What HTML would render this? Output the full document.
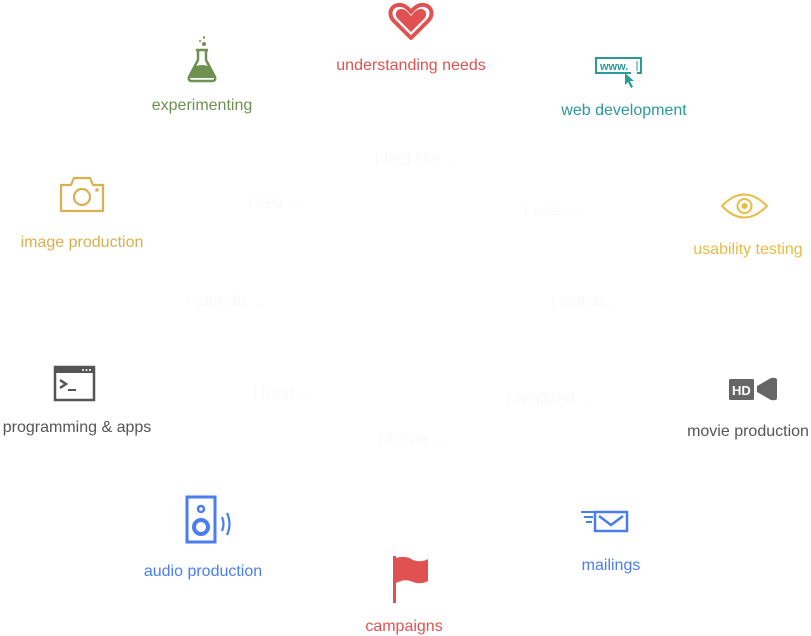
<!DOCTYPE html>
<html><head><meta charset="utf-8"><style>
body{margin:0;width:811px;height:636px;background:#fff;position:relative;overflow:hidden;font-family:"Liberation Sans",sans-serif;}
.l{position:absolute;font-size:16px;white-space:nowrap;transform:translateX(-50%);line-height:18px;}
.f{position:absolute;font-size:17px;color:#f9f9f9;white-space:nowrap;line-height:18px;}
svg{position:absolute;}
</style></head><body>
<div class="f" style="left:375px;top:150px">i feel like ...</div>
<div class="f" style="left:248px;top:194px">i see ...</div>
<div class="f" style="left:524px;top:202px">i use ...</div>
<div class="f" style="left:187px;top:292px">i can do ...</div>
<div class="f" style="left:551px;top:293px">i watch ...</div>
<div class="f" style="left:253px;top:384px">i hear ...</div>
<div class="f" style="left:507px;top:390px">i realized ...</div>
<div class="f" style="left:379px;top:430px">i know ...</div>

<svg style="left:388px;top:2px" width="46" height="40" viewBox="0 0 46 40"><path d="M23 36 L6 19 C0 13 2 4 10 3 C16 2 20 6 23 10 C26 6 30 2 36 3 C44 4 46 13 40 19 Z" fill="#fff" stroke="#e05252" stroke-width="4" stroke-linejoin="round"/><path d="M23 30 L10 17 C6 13 8 7 13 7 C17 7 20 10 23 14 C26 10 29 7 33 7 C38 7 40 13 36 17 Z" fill="#e05252"/></svg>
<div class="l" style="left:411px;top:57px;color:#e05252">understanding needs</div>

<svg style="left:186px;top:35px" width="32" height="50" viewBox="0 0 32 50"><circle cx="18" cy="2.5" r="1.2" fill="#6f9150"/><circle cx="14" cy="6" r="1" fill="#6f9150"/><circle cx="18" cy="9" r="2" fill="#6f9150"/><path d="M10 15 H22 M12 15 V25 L3 42 Q2 46 6 46 H26 Q30 46 29 42 L20 25 V15" fill="none" stroke="#6f9150" stroke-width="2.5" stroke-linejoin="round"/><path d="M8 32 Q16 28 24 32 L28 43 H4 Z" fill="#6f9150"/></svg>
<div class="l" style="left:202px;top:97px;color:#6f9150">experimenting</div>

<svg style="left:594px;top:56px" width="50" height="34" viewBox="0 0 50 34"><path d="M37 17 H2 V2 H47 V17 H43" fill="none" stroke="#2a9a9a" stroke-width="2"/><text x="6" y="14" font-family="Liberation Sans" font-weight="bold" font-size="11" fill="#2a9a9a">www.</text><line x1="43" y1="5" x2="43" y2="15" stroke="#2a9a9a" stroke-width="1"/><path d="M31 17 L31 29 L34 26 L37 32 L39 31 L36 25 L40 25 Z" fill="#2a9a9a"/></svg>
<div class="l" style="left:624px;top:102px;color:#2a9a9a">web development</div>

<svg style="left:58px;top:175px" width="48" height="39" viewBox="0 0 48 39"><path d="M3 10 H13 L16 3 H32 L35 10 H45 V36 H3 Z" fill="none" stroke="#d9b04f" stroke-width="2.2" stroke-linejoin="round"/><circle cx="24" cy="22" r="8" fill="none" stroke="#d9b04f" stroke-width="2.2"/><circle cx="39" cy="15" r="1.8" fill="#d9b04f"/></svg>
<div class="l" style="left:82px;top:234px;color:#d9b04f">image production</div>

<svg style="left:720px;top:189px" width="49" height="34" viewBox="0 0 49 34"><path d="M2 17 Q24 -6 47 17 Q24 40 2 17 Z" fill="none" stroke="#e6bc45" stroke-width="2"/><circle cx="24.5" cy="17" r="7" fill="none" stroke="#e6bc45" stroke-width="2"/><circle cx="24.5" cy="17" r="3" fill="#e6bc45"/></svg>
<div class="l" style="left:748px;top:241px;color:#e6bc45">usability testing</div>

<svg style="left:53px;top:365px" width="44" height="38" viewBox="0 0 44 38"><rect x="2" y="2" width="39" height="33" fill="none" stroke="#555" stroke-width="2.5"/><rect x="2" y="2" width="39" height="6" fill="#555"/><circle cx="30" cy="5" r="1" fill="#fff"/><circle cx="33.5" cy="5" r="1" fill="#fff"/><circle cx="37" cy="5" r="1" fill="#fff"/><path d="M7 15 L13 19 L7 23" fill="none" stroke="#555" stroke-width="2.5"/><line x1="15" y1="25" x2="23" y2="25" stroke="#555" stroke-width="2"/></svg>
<div class="l" style="left:77px;top:419px;color:#555">programming &amp; apps</div>

<svg style="left:728px;top:376px" width="50" height="26" viewBox="0 0 50 26"><rect x="1" y="3" width="25" height="21" rx="1.5" fill="#666"/><text x="4" y="19" font-family="Liberation Sans" font-weight="bold" font-size="13" fill="#fff">HD</text><path d="M29 10 L43 2 Q49 1 49 4 V22 Q49 25 43 24 L29 16 Z" fill="#666"/></svg>
<div class="l" style="left:748px;top:423px;color:#555">movie production</div>

<svg style="left:184px;top:495px" width="52" height="50" viewBox="0 0 52 50"><rect x="3" y="2" width="28" height="45" fill="none" stroke="#4a7ef0" stroke-width="3"/><circle cx="17" cy="14" r="3" fill="none" stroke="#4a7ef0" stroke-width="2.5"/><circle cx="17" cy="32" r="7" fill="none" stroke="#4a7ef0" stroke-width="4"/><path d="M38 22 Q41 29 38 36 M43 18 Q48 29 43 40" fill="none" stroke="#4a7ef0" stroke-width="2.2"/></svg>
<div class="l" style="left:203px;top:563px;color:#4a7ef0">audio production</div>

<svg style="left:580px;top:510px" width="50" height="24" viewBox="0 0 50 24"><path d="M1 2 H15 M4 7 H13 M6 12 H12" stroke="#4a7ef0" stroke-width="2"/><rect x="15" y="2" width="32" height="19" fill="none" stroke="#4a7ef0" stroke-width="2.5"/><path d="M19 6 L31 15 L43 6" fill="none" stroke="#4a7ef0" stroke-width="2.5"/></svg>
<div class="l" style="left:611px;top:557px;color:#4a7ef0">mailings</div>

<svg style="left:391px;top:555px" width="40" height="50" viewBox="0 0 40 50"><rect x="2" y="1" width="3" height="47" fill="#e05252"/><path d="M5 3 Q15 0 22 5 Q30 8 37 4 V26 Q30 30 22 27 Q14 23 5 28 Z" fill="#e05252"/></svg>
<div class="l" style="left:404px;top:618px;color:#e05252">campaigns</div>
</body></html>
